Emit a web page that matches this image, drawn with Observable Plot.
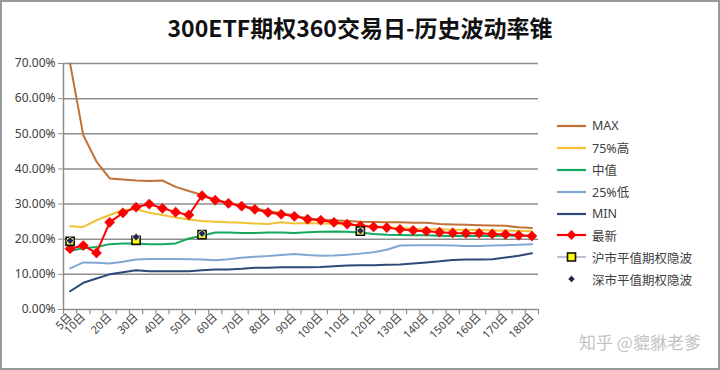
<!DOCTYPE html>
<html><head><meta charset="utf-8">
<script src="https://cdn.jsdelivr.net/npm/d3@7"></script>
<script src="https://cdn.jsdelivr.net/npm/@observablehq/plot@0.6"></script>
<style>
body{margin:0;background:#fff;font-family:"Noto Sans","Noto Sans CJK SC",sans-serif;}
#wrap{position:relative;width:720px;height:370px;overflow:hidden;background:#fff;}
#title{position:absolute;left:0;top:0;width:720px;height:54px;text-align:center;font-family:"Noto Sans CJK SC",sans-serif;font-weight:bold;font-size:23px;line-height:54px;color:#111;}
#chart{position:absolute;left:0;top:50px;}
#legend{position:absolute;left:556px;top:115px;font-size:12.5px;color:#404040;font-family:"Noto Sans","Noto Sans CJK SC",sans-serif;}
#legend .row{height:21.9px;display:flex;align-items:center;white-space:nowrap;}
#legend svg{margin-right:4px;}
#wm{position:absolute;left:579px;top:329px;font-size:17px;color:#c4c4c4;font-family:"Noto Sans CJK SC",sans-serif;white-space:nowrap;}
#frame{position:absolute;left:0;top:0;width:716px;height:366px;border:2px solid #9a9a9a;pointer-events:none;}
g[aria-label="x-axis tick label"] text, g[aria-label="x-axis"] text{font-size:11px;}
</style>
</head><body>
<div id="wrap">
  <div id="title">300ETF期权360交易日-历史波动率锥</div>
  <div id="chart"></div>
  <div id="legend"></div>
  <div id="wm">知乎 @貔貅老爹</div>
  <div id="frame"></div>
</div>
<script>
// x categories (days)
const days = [5,10,15,20,25,30,35,40,45,50,55,60,65,70,75,80,85,90,95,100,105,110,115,120,125,130,135,140,145,150,155,160,165,170,175,180];
// tick labels shown on the axis
const labelDays = [5,10,20,30,40,50,60,70,80,90,100,110,120,130,140,150,160,170,180];
// y ticks (%)
const yTicks = [0,10,20,30,40,50,60,70];

// series values (%)
const maxV   = [70.0,49.6,42.1,37.3,37.0,36.7,36.6,36.7,34.9,33.7,32.6,31.3,30.4,29.6,28.8,28.0,27.4,26.8,25.9,25.6,25.4,25.2,25.0,24.9,24.8,24.8,24.7,24.7,24.3,24.2,24.1,24.0,23.9,23.8,23.4,23.2];
const p75V   = [23.7,23.5,25.4,26.9,28.3,28.6,27.5,26.9,26.2,25.6,25.2,25.0,24.8,24.7,24.5,24.3,24.8,24.5,24.6,24.5,24.4,24.2,24.0,23.7,23.4,23.2,23.0,22.9,22.8,22.7,22.6,22.6,22.5,22.4,22.4,22.3];
const medV   = [16.7,17.4,17.8,18.6,18.8,18.8,18.6,18.6,18.8,20.2,21.0,21.9,21.9,21.8,21.8,21.9,21.9,21.8,22.0,22.1,22.2,22.1,21.9,21.5,21.3,21.2,21.1,21.1,21.0,20.9,20.9,20.9,20.9,21.0,21.0,21.0];
const p25V   = [11.7,13.4,13.3,13.1,13.6,14.2,14.4,14.4,14.4,14.3,14.2,14.0,14.3,14.7,15.0,15.2,15.5,15.8,15.5,15.3,15.4,15.6,15.9,16.3,17.0,18.2,18.3,18.3,18.3,18.2,18.1,18.1,18.2,18.3,18.4,18.6];
const minV   = [5.2,7.6,8.8,10.0,10.6,11.2,10.9,10.9,10.9,10.9,11.2,11.4,11.4,11.6,11.9,11.9,12.0,12.0,12.0,12.1,12.3,12.5,12.6,12.6,12.7,12.8,13.1,13.4,13.7,14.1,14.2,14.2,14.3,14.8,15.3,16.0];
const latestV= [17.3,18.2,16.1,24.8,27.5,29.1,30.0,28.8,27.7,26.9,32.4,31.1,30.2,29.4,28.5,27.6,27.1,26.5,25.7,25.4,24.8,24.3,23.8,23.5,23.3,22.8,22.5,22.3,22.0,21.8,21.7,21.7,21.5,21.4,21.1,20.9];

// implied vols of at-the-money options
const ivDays = [5,30,55,115];
const ivSH   = [19.4,19.7,21.3,22.3];
const ivSZ   = [19.6,20.6,21.6,22.4];

const names  = ["MAX","75%高","中值","25%低","MIN","最新","沪市平值期权隐波","深市平值期权隐波"];
const colors = ["#c27236","#f2c234","#14a85c","#7ea8d2","#2e4878","#ff0000","#ffff00","#1e2b4c"];

const xi = d => days.indexOf(d);
const lineSeries = [maxV,p75V,medV,p25V,minV];
const grid = "#8e8e8e";

const plot = Plot.plot({
  width:720, height:320,
  marginLeft:63, marginRight:182, marginTop:13, marginBottom:61,
  style:{fontFamily:'"Noto Sans","Noto Sans CJK SC",sans-serif', fontSize:"12px", color:"#404040", background:"transparent", overflow:"visible"},
  x:{type:"linear", domain:[-0.5, days.length-0.5], ticks:labelDays.map(xi), tickFormat:i=>days[i]+"日", tickRotate:-45, tickSize:0, tickPadding:6, label:null},
  y:{domain:[0,70], ticks:yTicks, tickFormat:d=>d.toFixed(2)+"%", tickSize:5, tickPadding:3, label:null},
  marks:[
    Plot.ruleY(yTicks, {stroke:grid, strokeWidth:1.5}),
    Plot.ruleX([-0.5], {stroke:grid, strokeWidth:1.5}),
    Plot.ruleX(d3.range(days.length+1).map(i=>i-0.5), {y1:0, y2:-1.5, stroke:grid, strokeWidth:1.2}),
    ...lineSeries.map((s,k)=>Plot.line(s, {x:(d,i)=>i, y:d=>d, stroke:colors[k], strokeWidth:2})),
    Plot.line(latestV, {x:(d,i)=>i, y:d=>d, stroke:colors[5], strokeWidth:2}),
    Plot.dot(latestV, {x:(d,i)=>i, y:d=>d, symbol:"diamond2", r:4.6, fill:colors[5], stroke:"#e00000", strokeWidth:0.5}),
    Plot.dot(ivSH, {x:(d,i)=>xi(ivDays[i]), y:d=>d, symbol:"square", r:4.6, fill:colors[6], stroke:"#111", strokeWidth:1.6}),
    Plot.dot(ivSZ, {x:(d,i)=>xi(ivDays[i]), y:d=>d, symbol:"diamond2", r:3.4, fill:colors[7], stroke:"#d8d8d8", strokeWidth:0.8})
  ]
});
document.getElementById("chart").appendChild(plot);
d3.select(plot).selectAll('g[aria-label="y-axis tick"] path, g[aria-label="y-axis"] .tick line').attr("stroke", grid);

// legend
const leg = document.getElementById("legend");
names.forEach((n,k)=>{
  const row = document.createElement("div"); row.className="row";
  let sw;
  if (k<5) sw = `<svg width="32" height="12"><line x1="1" x2="30" y1="6" y2="6" stroke="${colors[k]}" stroke-width="2.2"/></svg>`;
  else if (k===5) sw = `<svg width="32" height="12"><line x1="1" x2="30" y1="6" y2="6" stroke="${colors[k]}" stroke-width="2.2"/><path d="M15.5 1 L20.5 6 L15.5 11 L10.5 6Z" fill="${colors[k]}"/></svg>`;
  else if (k===6) sw = `<svg width="32" height="12"><line x1="1" x2="30" y1="6" y2="6" stroke="#b9c3d3" stroke-width="2"/><rect x="11.5" y="2" width="8" height="8" fill="${colors[k]}" stroke="#111" stroke-width="1.6"/></svg>`;
  else sw = `<svg width="32" height="12"><path d="M15.5 2.5 L19 6 L15.5 9.5 L12 6Z" fill="${colors[k]}" stroke="#ccc" stroke-width="0.8"/></svg>`;
  row.innerHTML = sw + `<span>${n}</span>`;
  leg.appendChild(row);
});
</script>
</body></html>
